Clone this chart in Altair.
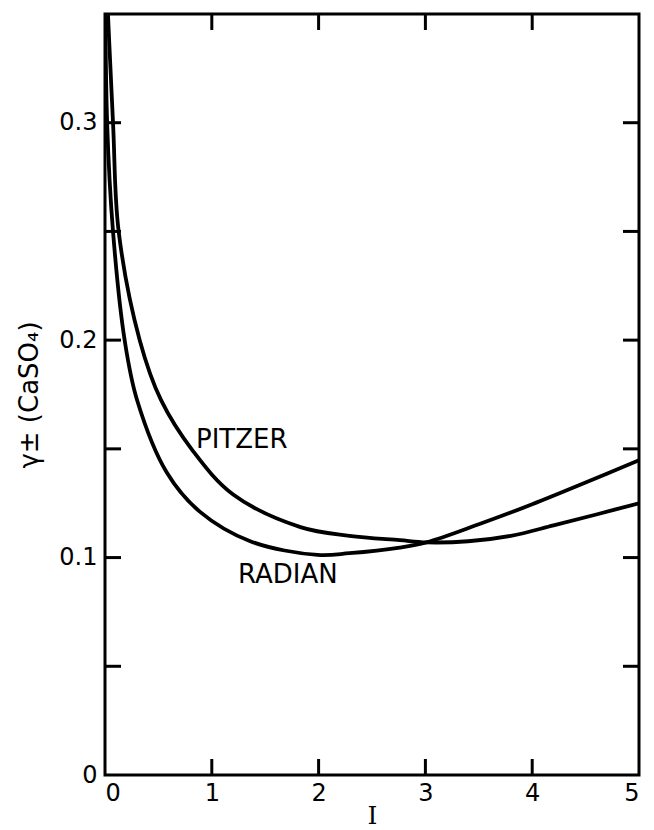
import altair as alt
import pandas as pd

# Ionic strength I and mean activity coefficient of CaSO4 for the two models
radian_I = [0.0, 0.02, 0.075, 0.184, 0.30, 0.58, 0.89, 1.36, 1.99, 2.29, 2.76, 3.01, 3.5, 4.0, 4.5, 5.0]
radian_g = [0.38, 0.30, 0.25, 0.20, 0.1725, 0.139, 0.121, 0.1075, 0.1012, 0.102, 0.1046, 0.107, 0.1153, 0.1245, 0.1345, 0.1448]

pitzer_I = [0.0, 0.075, 0.128, 0.325, 0.524, 0.824, 1.2, 1.83, 2.29, 2.76, 3.01, 3.4, 3.8, 4.2, 4.6, 5.0]
pitzer_g = [0.38, 0.30, 0.25, 0.20, 0.1725, 0.149, 0.129, 0.114, 0.110, 0.108, 0.107, 0.1075, 0.110, 0.1148, 0.1198, 0.125]

# Curve captions and their anchor points (data units)
label_text = ["PITZER", "RADIAN"]
label_I = [0.852, 1.245]
label_g = [0.1504, 0.0883]

x_ticks = [1, 2, 3, 4]
y_ticks = [0.05, 0.10, 0.15, 0.20, 0.25, 0.30]
x_labels = [0, 1, 2, 3, 4, 5]
y_labels = [0.0, 0.1, 0.2, 0.3]

W, H = 534, 761
TICK = 16
FONT = "DejaVu Sans"

curves = pd.concat([
    pd.DataFrame({"I": radian_I, "g": radian_g, "model": "RADIAN"}),
    pd.DataFrame({"I": pitzer_I, "g": pitzer_g, "model": "PITZER"}),
])
labels = pd.DataFrame({"text": label_text, "I": label_I, "g": label_g})
xt = pd.DataFrame({"I": x_ticks})
yt = pd.DataFrame({"g": y_ticks})

xscale = alt.Scale(domain=[0, 5], nice=False, zero=False)
yscale = alt.Scale(domain=[0, 0.35], nice=False, zero=False)

x_enc = alt.X(
    "I:Q", scale=xscale, title="I",
    axis=alt.Axis(values=x_labels, format="d", ticks=False, domain=False, grid=False,
                  labelFont=FONT, labelFontSize=24, labelColor="black",
                  labelPadding=6, titleFont="DejaVu Serif", titleFontSize=25,
                  titleFontWeight="normal", titleColor="black",
                  titleY=48, titleBaseline="alphabetic"),
)
y_enc = alt.Y(
    "g:Q", scale=yscale, title="γ± (CaSO₄)",
    axis=alt.Axis(values=y_labels, ticks=False, domain=False, grid=False,
                  labelExpr="datum.value == 0 ? '0' : format(datum.value, '.1f')",
                  labelFont=FONT, labelFontSize=24, labelColor="black",
                  labelPadding=8, titleFont=FONT, titleFontSize=26,
                  titleFontWeight="normal", titleColor="black", titlePadding=16),
)

lines = alt.Chart(curves).mark_line(
    color="black", strokeWidth=3.8, interpolate="catmull-rom", clip=True
).encode(x=x_enc, y=y_enc, detail="model:N")

text = alt.Chart(labels).mark_text(
    align="left", baseline="alphabetic", font=FONT, fontSize=26, color="black"
).encode(
    x=alt.X("I:Q", scale=xscale),
    y=alt.Y("g:Q", scale=yscale),
    text="text:N",
)

# inward-pointing tick marks on all four sides of the frame
left_ticks = alt.Chart(yt).mark_rule(color="black", strokeWidth=3).encode(
    y=alt.Y("g:Q", scale=yscale), x=alt.value(0), x2=alt.value(TICK))
right_ticks = alt.Chart(yt).mark_rule(color="black", strokeWidth=3).encode(
    y=alt.Y("g:Q", scale=yscale), x=alt.value(W - TICK), x2=alt.value(W))
bottom_ticks = alt.Chart(xt).mark_rule(color="black", strokeWidth=3).encode(
    x=alt.X("I:Q", scale=xscale), y=alt.value(H - TICK), y2=alt.value(H))
top_ticks = alt.Chart(xt).mark_rule(color="black", strokeWidth=3).encode(
    x=alt.X("I:Q", scale=xscale), y=alt.value(0), y2=alt.value(TICK))

chart = alt.layer(
    lines, text, left_ticks, right_ticks, bottom_ticks, top_ticks
).properties(
    width=W, height=H,
    autosize="none",
    padding={"left": 105, "top": 14, "right": 15, "bottom": 55},
    background="white",
).configure_view(
    stroke="black", strokeWidth=3
)

chart.save("out.html", embed_options={"renderer": "svg", "actions": False})
